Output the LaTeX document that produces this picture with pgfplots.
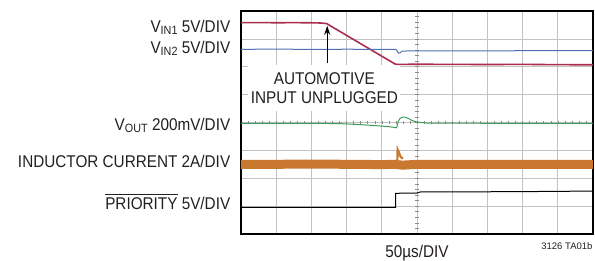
\documentclass[border=0pt]{standalone}
\usepackage{pgfplots}
\pgfplotsset{compat=1.18}
\usepackage{fontspec}
\setmainfont[FakeStretch=0.9]{Liberation Sans}
\newfontfamily\smallfont{Liberation Sans}
\usetikzlibrary{arrows.meta}
\definecolor{txt}{HTML}{231F20}
\definecolor{cred}{HTML}{AA2F4F}
\definecolor{cblue}{HTML}{4F6FB0}
\definecolor{cgreen}{HTML}{3F9A5A}
\definecolor{corange}{HTML}{C8782F}
\newcommand\sub[1]{\raisebox{-2.2pt}{\fontsize{12}{12}\selectfont #1}}
\newcommand\ovl[1]{\leavevmode\vbox{\hrule height 0.7pt \kern 3pt \hbox{#1}}}
\begin{document}
\begin{tikzpicture}[font=\fontsize{17}{19}\selectfont, text=txt]
\begin{axis}[
  name=a, scale only axis, width=352pt, height=223pt,
  xmin=0, xmax=10, ymin=0, ymax=8,
  xtick={0,...,10}, ytick={0,...,8}, xticklabels={}, yticklabels={},
  major tick length=0pt, grid=major,
  grid style={draw=black!24, line width=0.6pt},
  axis line style={line width=1.4pt, black},
  clip=false,
]
% white box behind annotation
\fill[white] (axis cs:0.2,4.4) rectangle (axis cs:4.52,6.06);
% center line minor ticks
\pgfplotsinvokeforeach{1,...,49}{
  \draw[black!45, line width=0.5pt] (axis cs:#1/5,3.93) -- (axis cs:#1/5,4.07);
}
\pgfplotsinvokeforeach{1,...,39}{
  \draw[black!45, line width=0.5pt] (axis cs:4.94,#1/5) -- (axis cs:5.06,#1/5);
}
% VIN1
\addplot[cred, line width=1.6pt] coordinates {
 (0,7.58)(0.5,7.585)(1,7.578)(1.5,7.582)(2,7.577)(2.25,7.57)(2.43,7.55)
 (3.0,7.125)(3.5,6.752)(4.0,6.379)(4.3,6.156)(4.375,6.10)(4.45,6.085)
 (5,6.09)(6,6.085)(7,6.08)(8,6.085)(9,6.075)(10,6.07)};
% VIN2
\addplot[cblue, line width=1pt] coordinates {
 (0,6.626)(1,6.63)(2,6.625)(3,6.628)(4,6.626)(4.40,6.625)(4.43,6.58)
 (4.47,6.49)(4.52,6.50)(4.58,6.56)(4.7,6.565)(5,6.565)(6,6.57)(7,6.57)
 (8,6.575)(9,6.575)(10,6.58)};
% VOUT
\addplot[cgreen, line width=1pt] coordinates {
 (0,3.97)(1,3.97)(2,3.97)(2.8,3.96)(3.3,3.93)(3.8,3.89)(4.2,3.85)(4.38,3.82)
 (4.42,3.81)(4.44,3.9)(4.47,4.05)(4.52,4.15)(4.58,4.19)(4.65,4.19)(4.75,4.15)
 (4.85,4.08)(4.95,4.03)(5.1,4.0)(5.3,3.98)(6,3.975)(8,3.97)(10,3.965)};
% Inductor current band
\addplot[corange, line width=9pt, line cap=butt] coordinates {
 (0,2.5)(1,2.5)(2,2.51)(3,2.5)(4,2.49)(4.4,2.5)(4.5,2.48)(4.6,2.47)(5,2.5)(10,2.5)};
\addplot[corange, line width=2.2pt] coordinates {
 (4.44,2.6)(4.45,3.03)(4.48,2.95)(4.53,2.78)(4.6,2.7)};
% PRIORITY
\addplot[black, line width=1pt] coordinates {
 (0,0.957)(2,0.957)(4.395,0.957)(4.395,1.46)(5.0,1.47)(5.1,1.51)(6,1.51)(8,1.52)(10,1.54)};
% annotation
\draw[-{Stealth[length=9pt,width=6pt]}, line width=1pt] (axis cs:2.45,6.13) -- (axis cs:2.45,7.47);
\node[anchor=base] at (axis cs:2.37,5.38) {AUTOMOTIVE};
\node[anchor=base] at (axis cs:2.37,4.69) {INPUT UNPLUGGED};
% channel labels
\node[anchor=base east, inner sep=0pt] at (axis cs:-0.3,7.236) {V\sub{IN1} 5V/DIV};
\node[anchor=base east, inner sep=0pt] at (axis cs:-0.3,6.48) {V\sub{IN2} 5V/DIV};
\node[anchor=base east, inner sep=0pt] at (axis cs:-0.3,3.73) {V\sub{OUT} 200mV/DIV};
\node[anchor=base east, inner sep=0pt] at (axis cs:-0.3,2.39) {INDUCTOR CURRENT 2A/DIV};
\node[anchor=base east, inner sep=0pt] at (axis cs:-0.3,0.861) {\ovl{PRIORITY} 5V/DIV};
\node[anchor=base, inner sep=0pt] at (axis cs:5,-0.85) {50µs/DIV};
\node[anchor=base east, inner sep=0pt, font=\smallfont\fontsize{9.5}{10}\selectfont] at (axis cs:9.99,-0.55) {3126 TA01b};
\end{axis}
\pgfresetboundingbox
\path[use as bounding box] ([shift={(-241pt,-27pt)}]a.south west) rectangle ([shift={(2pt,11pt)}]a.north east);
\end{tikzpicture}
\end{document}
